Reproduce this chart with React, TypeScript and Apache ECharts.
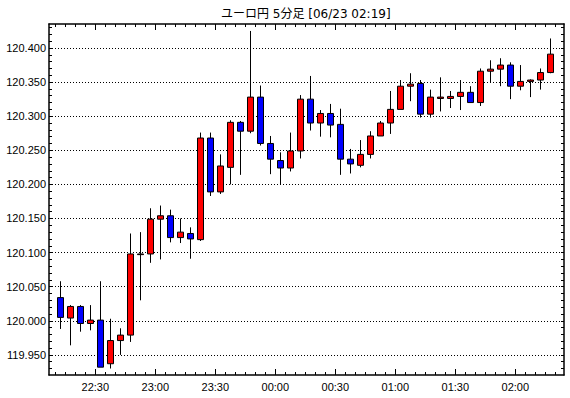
import React, { useEffect, useRef } from 'react';
import * as echarts from 'echarts';

const TITLE = 'ユーロ円 5分足 [06/23 02:19]';
const START_MINUTES = 22 * 60 + 10; // first candle starts at 22:10
const STEP_MINUTES = 5;

const openValues = [
  120.034, 120.004, 120.021, 119.996, 120.001, 119.937, 119.971, 119.979, 120.097, 120.098,
  120.149, 120.154, 120.122, 120.128, 120.119, 120.268, 120.189, 120.225, 120.291, 120.278,
  120.328, 120.260, 120.235, 120.224, 120.249, 120.325, 120.290, 120.304, 120.288, 120.237,
  120.228, 120.244, 120.271, 120.290, 120.310, 120.344, 120.348, 120.303, 120.326, 120.326,
  120.329, 120.335, 120.320, 120.366, 120.369, 120.375, 120.344, 120.351, 120.353, 120.364,
];
const closeValues = [
  120.005, 120.021, 119.996, 120.001, 119.932, 119.971, 119.979, 120.098, 120.098, 120.149,
  120.154, 120.122, 120.130, 120.120, 120.268, 120.189, 120.227, 120.291, 120.278, 120.328,
  120.260, 120.237, 120.224, 120.249, 120.325, 120.290, 120.304, 120.287, 120.237, 120.230,
  120.244, 120.271, 120.290, 120.310, 120.344, 120.347, 120.303, 120.328, 120.328, 120.329,
  120.335, 120.320, 120.366, 120.369, 120.375, 120.344, 120.351, 120.353, 120.364, 120.391,
];
const lowValues = [
  119.988, 119.964, 119.984, 119.986, 119.932, 119.930, 119.950, 119.969, 120.030, 120.085,
  120.090, 120.115, 120.114, 120.091, 120.117, 120.183, 120.186, 120.200, 120.214, 120.275,
  120.257, 120.215, 120.200, 120.219, 120.238, 120.279, 120.270, 120.269, 120.214, 120.216,
  120.225, 120.238, 120.271, 120.274, 120.310, 120.322, 120.298, 120.298, 120.307, 120.312,
  120.309, 120.320, 120.315, 120.350, 120.344, 120.325, 120.338, 120.328, 120.339, 120.363,
];
const highValues = [
  120.058, 120.023, 120.023, 120.023, 120.058, 120.003, 119.989, 120.128, 120.130, 120.165,
  120.169, 120.163, 120.150, 120.137, 120.276, 120.276, 120.244, 120.294, 120.293, 120.425,
  120.345, 120.271, 120.247, 120.276, 120.331, 120.359, 120.309, 120.318, 120.311, 120.252,
  120.265, 120.278, 120.293, 120.337, 120.353, 120.363, 120.353, 120.339, 120.357, 120.337,
  120.353, 120.344, 120.370, 120.382, 120.385, 120.379, 120.375, 120.354, 120.370, 120.414,
];

const yTickLabels = ['119.950', '120.000', '120.050', '120.100', '120.150', '120.200', '120.250', '120.300', '120.350', '120.400'];
const xTickLabels = ['22:30', '23:00', '23:30', '00:00', '00:30', '01:00', '01:30', '02:00'];

const Y_MIN = 119.9205;
const Y_MAX = 120.4352;
const X_MIN = -0.63;
const X_MAX = 50.87;

const FONT = '"Liberation Sans", Arial, sans-serif';

function slotOfTime(label: string): number {
  const [h, m] = label.split(':').map(Number);
  let mins = h * 60 + m;
  if (mins < START_MINUTES) mins += 24 * 60;
  return (mins - START_MINUTES) / STEP_MINUTES;
}

function timeOfSlot(slot: number): string {
  const mins = (START_MINUTES + slot * STEP_MINUTES) % (24 * 60);
  const h = Math.floor(mins / 60);
  const m = Math.round(mins % 60);
  return String(h).padStart(2, '0') + ':' + String(m).padStart(2, '0');
}

export default function App() {
  const ref = useRef<HTMLDivElement>(null);

  useEffect(() => {
    if (!ref.current) return;
    const chart = echarts.init(ref.current, undefined, { renderer: 'svg' });

    const yMajor = yTickLabels.map(Number);
    const yMinor: number[] = [];
    for (let k = Math.ceil(Y_MIN * 100); k <= Math.floor(Y_MAX * 100); k++) yMinor.push(k / 100);
    const xMajor = xTickLabels.map(slotOfTime);
    const xMinor: number[] = [];
    for (let k = Math.ceil(X_MIN); k <= Math.floor(X_MAX); k++) xMinor.push(k);

    const candles = openValues.map((o, i) => [i + 0.5, o, closeValues[i], lowValues[i], highValues[i]]);

    const lineStyle = { color: '#000', width: 1.5 };

    const yAxis = (position: 'left' | 'right', ticks: number[], main: boolean, labels: boolean) => ({
      type: 'value',
      position,
      min: Y_MIN,
      max: Y_MAX,
      axisLine: { show: main, onZero: false, lineStyle },
      axisTick: { show: true, inside: true, length: 3, customValues: ticks, lineStyle: { color: '#000', width: 1 } },
      axisLabel: labels
        ? {
            show: true,
            customValues: yMajor,
            formatter: (v: number) => v.toFixed(3),
            margin: 3,
            fontSize: 11,
            fontFamily: FONT,
            color: '#000',
          }
        : { show: false },
      splitLine: labels
        ? { show: true, lineStyle: { color: '#000', type: [1, 2], width: 1 } }
        : { show: false },
    });

    const xAxis = (position: 'top' | 'bottom', ticks: number[], len: number, main: boolean, labels: boolean) => ({
      type: 'value',
      position,
      min: X_MIN,
      max: X_MAX,
      axisLine: { show: main, onZero: false, lineStyle },
      axisTick: { show: true, inside: true, length: len, customValues: ticks, lineStyle: { color: '#000', width: 1 } },
      axisLabel: labels
        ? {
            show: true,
            customValues: xMajor,
            formatter: (v: number) => timeOfSlot(v),
            margin: 6,
            fontSize: 11,
            fontFamily: FONT,
            color: '#000',
          }
        : { show: false },
      splitLine: { show: false },
    });

    chart.setOption({
      animation: false,
      backgroundColor: '#fff',
      title: {
        text: TITLE,
        left: 221,
        top: 8,
        padding: 0,
        textStyle: { fontSize: 12, fontWeight: 'normal', color: '#000', fontFamily: '"DejaVu Sans", "Noto Sans CJK JP", sans-serif' },
      },
      grid: { left: 49, right: 6, top: 24, bottom: 23, containLabel: false },
      xAxis: [
        xAxis('bottom', xMajor, 6, true, true),
        xAxis('bottom', xMinor, 3, false, false),
        xAxis('top', xMajor, 6, true, false),
        xAxis('top', xMinor, 3, false, false),
      ],
      yAxis: [
        yAxis('left', yMajor, true, true),
        yAxis('left', yMinor, false, false),
        yAxis('right', yMajor, true, false),
        yAxis('right', yMinor, false, false),
      ],
      series: [
        {
          type: 'candlestick',
          xAxisIndex: 0,
          yAxisIndex: 0,
          barWidth: 6,
          encode: { x: 0, y: [1, 2, 3, 4] },
          data: candles,
          itemStyle: {
            color: '#ff0000',
            color0: '#0000ff',
            borderColor: '#000',
            borderColor0: '#000',
            borderColorDoji: '#000',
            borderWidth: 1,
          },
        },
      ],
    });

    return () => chart.dispose();
  }, []);

  return <div ref={ref} style={{ position: 'fixed', left: 0, top: 0, width: 570, height: 398 }} />;
}
